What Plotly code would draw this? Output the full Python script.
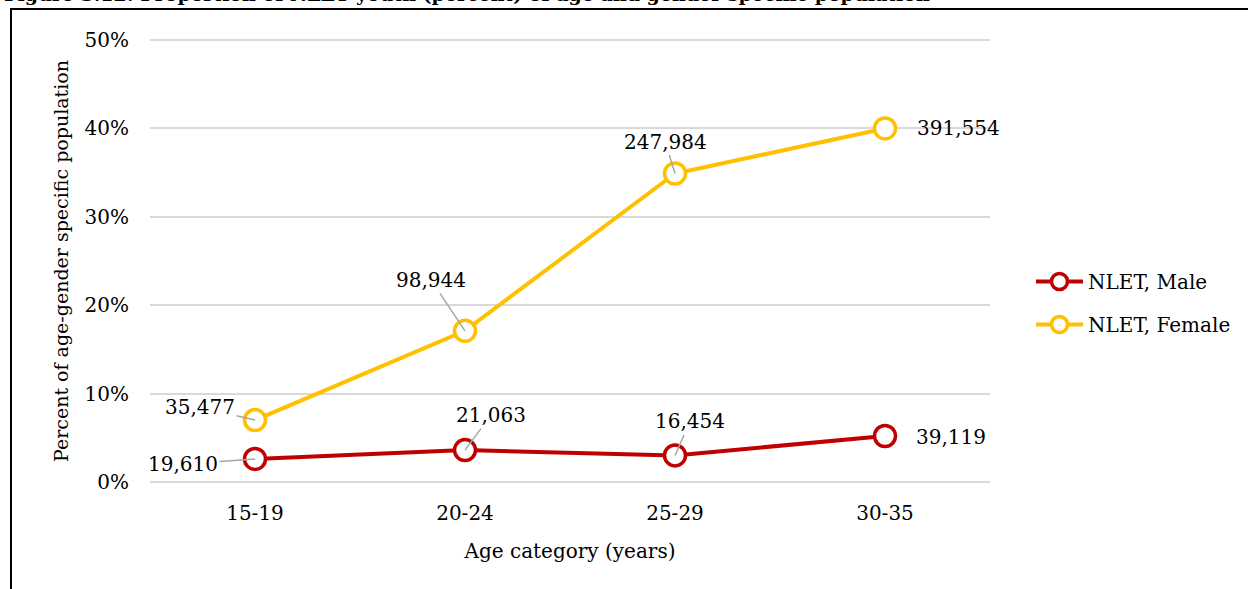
import plotly.graph_objects as go

categories = ["15-19", "20-24", "25-29", "30-35"]
male_pct = [0.026, 0.036, 0.030, 0.052]
female_pct = [0.070, 0.171, 0.349, 0.400]
male_counts = ["19,610", "21,063", "16,454", "39,119"]
female_counts = ["35,477", "98,944", "247,984", "391,554"]
y_ticks = [0, 0.1, 0.2, 0.3, 0.4, 0.5]
y_tick_labels = ["0%", "10%", "20%", "30%", "40%", "50%"]

# label offsets (pixels) relative to the point, and whether a leader line is drawn
male_offsets = [(-72, 5, True), (26, -35, True), (15, -34, True), (66, 1, False)]
female_offsets = [(-55, -13, True), (-34, -51, True), (-10, -32, True), (73, 0, False)]

FONT = "DejaVu Serif"
RED = "#C00000"
GOLD = "#FFC000"

fig = go.Figure()
fig.add_trace(go.Scatter(
    x=categories, y=male_pct, name="NLET, Male", mode="lines+markers",
    line=dict(color=RED, width=4),
    marker=dict(symbol="circle", size=21, color="white", line=dict(color=RED, width=3.5)),
    cliponaxis=False, legendgroup="m",
))
fig.add_trace(go.Scatter(
    x=categories, y=female_pct, name="NLET, Female", mode="lines+markers",
    line=dict(color=GOLD, width=4),
    marker=dict(symbol="circle", size=21, color="white", line=dict(color=GOLD, width=3.5)),
    cliponaxis=False, legendgroup="f",
))

annotations = []
for vals, labels, offs in [(male_pct, male_counts, male_offsets), (female_pct, female_counts, female_offsets)]:
    for c, v, lab, (dx, dy, arrow) in zip(categories, vals, labels, offs):
        if arrow:
            annotations.append(dict(
                x=c, y=v, text=lab, showarrow=True, ax=dx, ay=dy,
                arrowhead=0, arrowwidth=1.5, arrowcolor="#A6A6A6", standoff=0,
                font=dict(family=FONT, size=20, color="black"),
            ))
        else:
            annotations.append(dict(
                x=c, y=v, text=lab, showarrow=False, xshift=dx, yshift=-dy,
                font=dict(family=FONT, size=20, color="black"),
            ))

# figure caption, cut off at the very top as in the source image
annotations.append(dict(
    xref="paper", yref="paper", x=(2 - 150) / 840, y=(483 - 7) / 444,
    xanchor="left", yanchor="bottom", showarrow=False,
    text="<b>Figure 3.12: Proportion of NLET youth (percent) of age and gender specific population</b>",
    font=dict(family=FONT, size=19, color="black"),
))

fig.update_layout(
    width=1248, height=589,
    margin=dict(l=150, r=258, t=39, b=106),
    paper_bgcolor="white", plot_bgcolor="white",
    font=dict(family=FONT, size=20, color="black"),
    showlegend=True,
    legend=dict(
        x=(1031 - 150) / 840, y=(483 - 262) / 444, xanchor="left", yanchor="top",
        font=dict(family=FONT, size=20, color="black"),
        itemwidth=47, tracegroupgap=14, bgcolor="rgba(0,0,0,0)",
    ),
    annotations=annotations,
    shapes=[dict(
        type="rect", xref="paper", yref="paper",
        x0=(11 - 150) / 840, x1=(1260 - 150) / 840,
        y0=(483 - 620) / 444, y1=(483 - 9) / 444,
        line=dict(color="black", width=2), fillcolor="rgba(0,0,0,0)", layer="below",
    )],
)
fig.update_xaxes(
    range=[-0.5, 3.5], showgrid=False, zeroline=False, showline=False, ticks="",
    tickfont=dict(family=FONT, size=20), ticklabelstandoff=16,
    title=dict(text="Age category (years)", font=dict(family=FONT, size=20), standoff=19),
)
fig.update_yaxes(
    range=[-0.0012, 0.5012], tickvals=y_ticks, ticktext=y_tick_labels,
    showgrid=True, gridcolor="#D9D9D9", gridwidth=1.5, zeroline=False, showline=False, ticks="",
    tickfont=dict(family=FONT, size=20), ticklabelstandoff=20,
    title=dict(text="Percent of age-gender specific population", font=dict(family=FONT, size=19), standoff=10),
)

fig.write_html("out.html", config={"displayModeBar": False},
               post_script="document.body.style.margin='0px';")
